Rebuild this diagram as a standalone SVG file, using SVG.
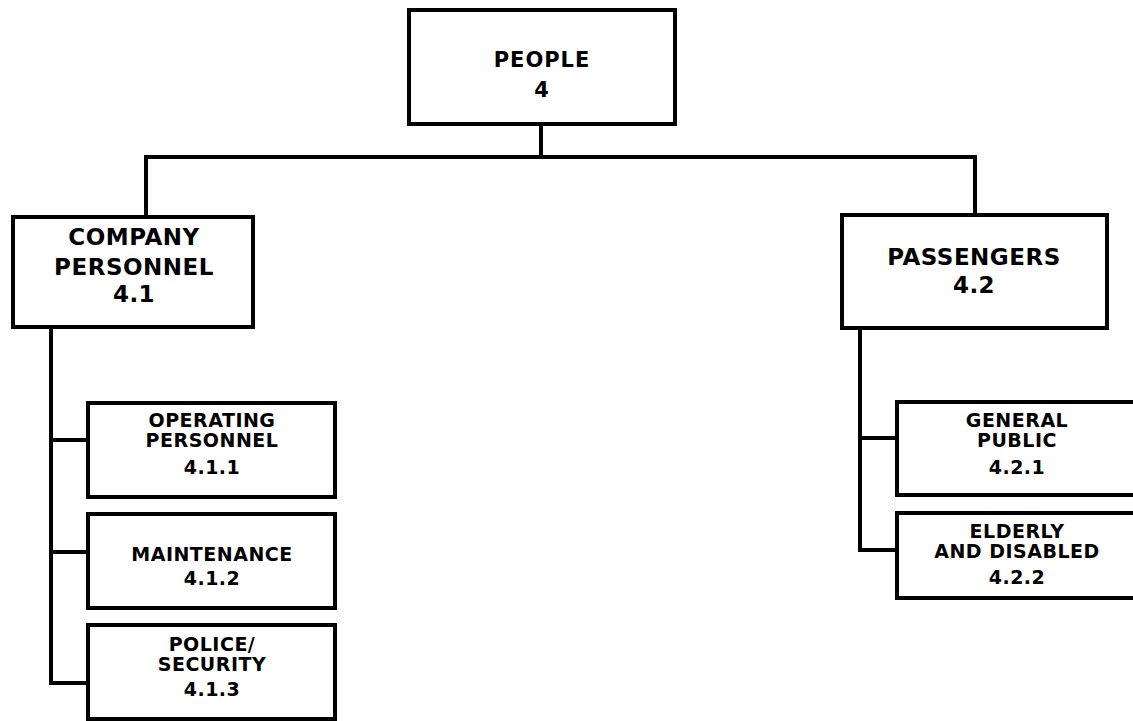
<svg xmlns="http://www.w3.org/2000/svg" width="1133" height="721" viewBox="0 0 1133 721">
  <style>
    .box { fill: #ffffff; stroke: #000000; stroke-width: 4; }
    .link { fill: none; stroke: #000000; stroke-width: 4; stroke-linejoin: miter; }
    text { font-family: "DejaVu Sans", "Liberation Sans", sans-serif; font-weight: bold; fill: #000000; text-anchor: middle; }
    .t1 { font-size: 21px; letter-spacing: 1px; }
    .t2 { font-size: 23px; letter-spacing: 0.5px; }
    .t3 { font-size: 19px; letter-spacing: 0.5px; }
  </style>
  <rect width="1133" height="721" fill="#ffffff"/>

  <!-- tree connectors -->
  <g id="connectors">
    <path class="link" d="M541,124 V157"/>
    <path class="link" d="M146,217 V157 H975 V215"/>
    <path class="link" d="M51,327 V683 H88"/>
    <path class="link" d="M51,440 H88"/>
    <path class="link" d="M51,552 H88"/>
    <path class="link" d="M860,328 V550 H897"/>
    <path class="link" d="M860,438 H897"/>
  </g>

  <g id="n4">
    <rect class="box" x="409" y="10" width="266" height="114"/>
    <text class="t1" x="542" y="67">PEOPLE</text>
    <text class="t1" x="542" y="97">4</text>
  </g>

  <g id="n4-1">
    <rect class="box" x="13" y="217" width="240" height="110"/>
    <text class="t2" x="134" y="245">COMPANY</text>
    <text class="t2" x="134" y="275">PERSONNEL</text>
    <text class="t2" x="134" y="302">4.1</text>
  </g>

  <g id="n4-2">
    <rect class="box" x="842" y="215" width="265" height="113"/>
    <text class="t2" x="974" y="265">PASSENGERS</text>
    <text class="t2" x="974" y="293">4.2</text>
  </g>

  <g id="n4-1-1">
    <rect class="box" x="88" y="403" width="247" height="94"/>
    <text class="t3" x="212" y="427">OPERATING</text>
    <text class="t3" x="212" y="447">PERSONNEL</text>
    <text class="t3" x="212" y="474">4.1.1</text>
  </g>

  <g id="n4-1-2">
    <rect class="box" x="88" y="514" width="247" height="94"/>
    <text class="t3" x="212" y="561">MAINTENANCE</text>
    <text class="t3" x="212" y="585">4.1.2</text>
  </g>

  <g id="n4-1-3">
    <rect class="box" x="88" y="625" width="247" height="94"/>
    <text class="t3" x="212" y="651">POLICE/</text>
    <text class="t3" x="212" y="671">SECURITY</text>
    <text class="t3" x="212" y="696">4.1.3</text>
  </g>

  <g id="n4-2-1">
    <rect class="box" x="897" y="402" width="250" height="93"/>
    <text class="t3" x="1017" y="427">GENERAL</text>
    <text class="t3" x="1017" y="447">PUBLIC</text>
    <text class="t3" x="1017" y="474">4.2.1</text>
  </g>

  <g id="n4-2-2">
    <rect class="box" x="897" y="513" width="250" height="85"/>
    <text class="t3" x="1017" y="538">ELDERLY</text>
    <text class="t3" x="1017" y="558">AND DISABLED</text>
    <text class="t3" x="1017" y="584">4.2.2</text>
  </g>
</svg>
